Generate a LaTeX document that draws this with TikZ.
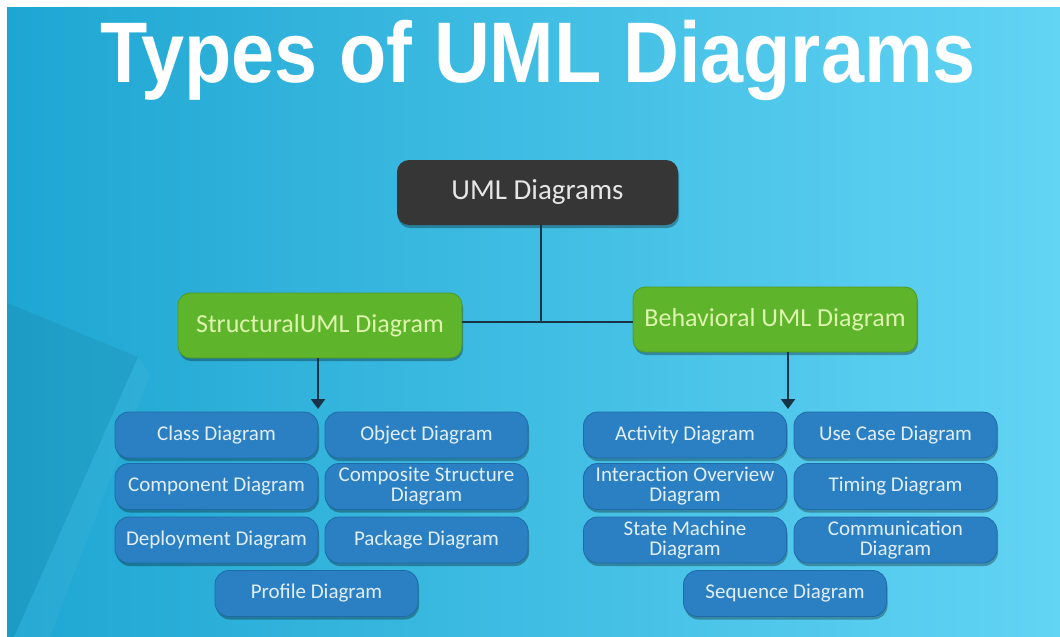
\documentclass[tikz,border=0pt]{standalone}
\usepackage{fontspec}
\setmainfont{Carlito}
\newfontfamily\titlefont{Liberation Sans}
\usetikzlibrary{arrows.meta,shadows}

\definecolor{bgdark}{HTML}{1EA6D2}
\definecolor{bgmid}{HTML}{56CDF0}
\definecolor{bglight}{HTML}{62D4F4}
\definecolor{rootfill}{HTML}{363636}
\definecolor{roottext}{HTML}{E6E6E6}
\definecolor{groupfill}{HTML}{5EB42A}
\definecolor{groupedge}{HTML}{4E9A22}
\definecolor{grouptext}{HTML}{DDF5AE}
\definecolor{leaffill}{HTML}{2A80C2}
\definecolor{leafedge}{HTML}{1F6BA8}
\definecolor{leaftext}{HTML}{E2EEF8}
\definecolor{wire}{HTML}{163446}

\tikzset{
  softshadow/.style={drop shadow={shadow xshift=1pt, shadow yshift=-3pt, opacity=0.3, fill=black}},
  rootbox/.style={rectangle, rounded corners=12pt, fill=rootfill, text=roottext,
    minimum width=281pt, minimum height=65pt, inner sep=0pt,
    font=\fontsize{29}{29}\selectfont, softshadow},
  groupbox/.style={rectangle, rounded corners=12pt, fill=groupfill, draw=groupedge,
    line width=0.8pt, text=grouptext, minimum width=284pt, minimum height=65pt,
    inner sep=0pt, font=\fontsize{26}{26}\selectfont, softshadow},
  leafbox/.style={rectangle, rounded corners=14pt, fill=leaffill, draw=leafedge,
    line width=0.8pt, text=leaftext, minimum width=203pt, minimum height=46pt,
    inner sep=0pt, align=center, font=\fontsize{21}{20}\selectfont, softshadow},
  wireline/.style={draw=wire, line width=2.2pt},
  arrowline/.style={wireline, -{Triangle[width=14pt,length=10pt]}},
  titletext/.style={anchor=base, inner sep=0pt, text=white,
    font=\titlefont\bfseries\fontsize{86}{86}\selectfont},
}

\begin{document}
\begin{tikzpicture}[x=1pt, y=-1pt]
  \useasboundingbox (0,0) rectangle (1060,637);
  % page and backdrop
  \fill[white] (0,0) rectangle (1060,637);
  \shade[left color=bgdark, middle color=bgmid, right color=bglight] (7,7) rectangle (1060,637);
  \fill[black, opacity=0.06] (7,303) -- (138,357) -- (14,637) -- (7,637) -- cycle;
  \fill[white, opacity=0.04] (138,357) -- (14,637) -- (50,637) -- (150,375) -- cycle;

  % heading
  \node[titletext] (title) at (538,82) {\scalebox{0.9}[1]{Types of UML Diagrams}};

  % hierarchy
  \node[rootbox] (uml) at (537.5,192.5) {UML Diagrams};
  \node[groupbox] (struct) at (320,325.5) {StructuralUML Diagram};
  \node[groupbox] (behav) at (775,319.5) {Behavioral UML Diagram};

  \coordinate (junc) at (541,322);
  \coordinate (stip) at (318,409);
  \coordinate (btip) at (788,409);

  % structural diagrams
  \node[leafbox] (class)     at (216.5,435)   {Class Diagram};
  \node[leafbox] (object)    at (426.5,435)   {Object Diagram};
  \node[leafbox] (component) at (216.5,486.5) {Component Diagram};
  \node[leafbox] (composite) at (426.5,486.5) {Composite Structure\\Diagram};
  \node[leafbox] (deploy)    at (216.5,540)   {Deployment Diagram};
  \node[leafbox] (package)   at (426.5,540)   {Package Diagram};
  \node[leafbox] (profile)   at (316.5,593.5) {Profile Diagram};

  % behavioral diagrams
  \node[leafbox] (activity)    at (685,435)    {Activity Diagram};
  \node[leafbox] (usecase)     at (895.5,435)  {Use Case Diagram};
  \node[leafbox] (interaction) at (685,486.5)  {Interaction Overview\\Diagram};
  \node[leafbox] (timing)      at (895.5,486.5){Timing Diagram};
  \node[leafbox] (statemach)   at (685,540)    {State Machine\\Diagram};
  \node[leafbox] (communic)    at (895.5,540)  {Communication\\Diagram};
  \node[leafbox] (sequence)    at (785,593.5)  {Sequence Diagram};

  % connectors
  \draw[wireline] (uml.south -| junc) -- (junc);
  \draw[wireline] (junc) -- (junc -| struct.east);
  \draw[wireline] (junc) -- (junc -| behav.west);
  \draw[arrowline] (struct.south -| stip) -- (stip);
  \draw[arrowline] (behav.south -| btip) -- (btip);
\end{tikzpicture}
\end{document}
